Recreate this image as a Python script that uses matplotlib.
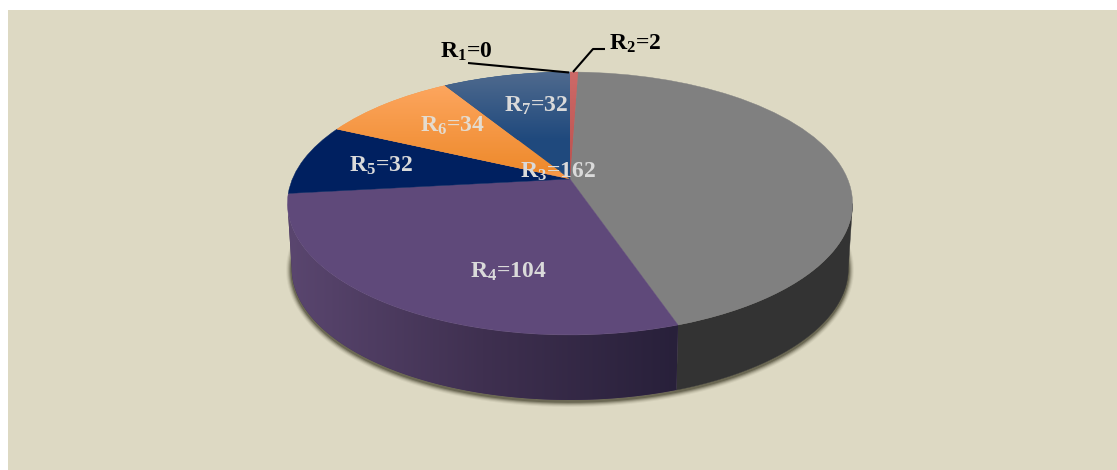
import numpy as np
import matplotlib
matplotlib.use("Agg")
import matplotlib.pyplot as plt
from matplotlib.colors import LinearSegmentedColormap
from matplotlib.patches import Polygon, Rectangle
from matplotlib.transforms import Transform

# Region counts, clockwise from twelve o'clock
regions = ["R1", "R2", "R3", "R4", "R5", "R6", "R7"]
counts = [0, 2, 162, 104, 32, 34, 32]
top_colors = ["#C0504D", "#C0504D", "#808080", "#5F497A", "#002060", "#F79646", "#1F497D"]

plt.rcParams["mathtext.fontset"] = "custom"
plt.rcParams["mathtext.bf"] = "Liberation Serif:bold"
plt.rcParams["mathtext.rm"] = "Liberation Serif:bold"
plt.rcParams["font.family"] = "Liberation Serif"

W, H = 1117, 470
BG = "#DDD9C3"
P = 0.1863          # perspective strength of the disc
APEX_X, APEX_Y = 570.0, 179.0
AX, AY = 277.6, 126.9
DEPTH = 65.0
BASE_SCALE = 0.985


def project(x, y, scale=1.0, drop=0.0):
    w = 1 + P * y
    return APEX_X + scale * AX * x / w, APEX_Y + drop - AY * y / w


class DiscProjection(Transform):
    """Maps the unit pie circle on to the tilted disc in pixel space."""
    input_dims = output_dims = 2
    is_affine = False
    has_inverse = False

    def transform_non_affine(self, values):
        v = np.asarray(values, dtype=float)
        px, py = project(v[:, 0], v[:, 1])
        return np.column_stack([px, py])


def rim(theta_deg, scale=1.0, drop=0.0):
    t = np.radians(theta_deg)
    return project(np.sin(t), np.cos(t), scale, drop)


def wall_outline(start, stop):
    """Closed outline of the drum wall between two rim angles."""
    t = np.linspace(start, stop, 120)
    xa, ya = rim(t)
    xb, yb = rim(t[::-1], BASE_SCALE, DEPTH)
    return np.column_stack([np.r_[xa, xb], np.r_[ya, yb]])


fig = plt.figure(figsize=(W / 100, H / 100), dpi=100, facecolor="white")
ax = fig.add_axes([0, 0, 1, 1])

wedges, _ = ax.pie(counts, colors=top_colors, startangle=90, counterclock=False,
                   wedgeprops={"linewidth": 0})
ax.set_aspect("auto")
ax.axis("off")
ax.add_patch(Rectangle((8, 10), W - 8, H - 10, facecolor=BG, edgecolor="none", zorder=0))

disc = DiscProjection() + ax.transData
for wedge in wedges:
    wedge.set_transform(disc)
    wedge.set_zorder(5)
    wedge.set_edgecolor(wedge.get_facecolor())
    wedge.set_linewidth(0.3)

edges = np.cumsum([0] + counts) / sum(counts) * 360.0

# Drum wall limits: the rim angles where the side turns away from the viewer
limit = np.degrees(np.arccos(-P))
t_right, t_left = limit, 360 - limit

# Soft shadow hugging the front of the drum base only
front_t = np.linspace(t_right - 8, t_left + 8, 240)
bx, by = rim(front_t, BASE_SCALE, DEPTH)
for lw, alpha in [(8, 0.06), (6.5, 0.1), (5, 0.16), (3.5, 0.24), (2, 0.34)]:
    ax.plot(bx, by + 1.5, color="#2e2c18", lw=lw, alpha=alpha, zorder=1,
            solid_capstyle="round")

# Flat grey on the right, a left-to-right purple ramp on the left
ax.add_patch(Polygon(wall_outline(t_right, edges[3]), closed=True, facecolor="#333333",
                     edgecolor="#333333", linewidth=0.3, zorder=2))
purple_poly = Polygon(wall_outline(edges[3], t_left), closed=True, facecolor="#3E2F4E",
                      edgecolor="none", zorder=2)
ax.add_patch(purple_poly)
purple_wall = LinearSegmentedColormap.from_list("wall", ["#5A466F", "#3F3050", "#28203A"])
ramp = np.linspace(0, 1, 256).reshape(1, -1)
wall_im = ax.imshow(ramp, cmap=purple_wall, extent=(288, 678, 405, 190), aspect="auto", zorder=3)
wall_im.set_clip_path(purple_poly)

# Vertical sheen on the far wedges of the top face
for idx, top, bottom, y0, y1 in [(1, "#CD6A68", "#BC4E4B", 72, 180),
                                 (5, "#FDA65F", "#EE8A2C", 84, 172),
                                 (6, "#4F6A8E", "#1F497D", 72, 140)]:
    cmap = LinearSegmentedColormap.from_list("sheen", [top, bottom])
    grad = np.linspace(0, 1, 128).reshape(-1, 1)
    im = ax.imshow(grad, cmap=cmap, extent=(280, 620, y1, y0), aspect="auto", zorder=6)
    im.set_clip_path(wedges[idx])
ax.set_xlim(0, W)
ax.set_ylim(H, 0)


def label_text(i):
    return rf"$\mathbf{{R_{{{regions[i][1:]}}}}}$={counts[i]}"


inner = "#DADADA"
placements = [(466, 52, "black"), (635, 44, "black"), (558, 172, inner), (508, 272, inner),
              (381, 166, inner), (452, 126, "#E4DCD0"), (536, 106, inner)]
for i, (tx, ty, col) in enumerate(placements):
    ax.text(tx, ty, label_text(i), color=col, fontsize=17, fontweight="bold",
            ha="center", va="center", zorder=8)

# Leader lines for the two narrowest regions
ax.plot([468, 569], [63, 72.5], color="black", lw=1.5, zorder=7, solid_capstyle="butt")
ax.plot([573, 593, 605], [72, 49, 49], color="black", lw=1.5, zorder=7, solid_capstyle="butt")

fig.savefig("out.png", dpi=100, facecolor="white")
